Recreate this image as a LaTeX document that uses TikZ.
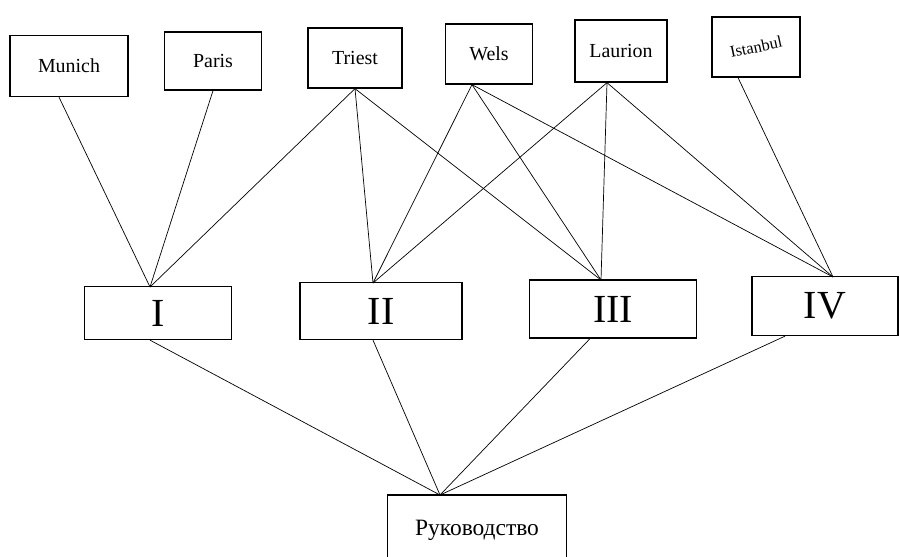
\documentclass[tikz,border=0pt]{standalone}
\usepackage{fontspec}
\setmainfont{Liberation Serif}
\begin{document}
\begin{tikzpicture}[x=0.03cm,y=-0.03cm,
  box/.style={draw,line width=1.1pt,rectangle,inner sep=0pt},
  city/.style={box,font=\fontsize{17}{17}\selectfont},
  grp/.style={box,font=\fontsize{34}{34}\selectfont},
  link/.style={line width=0.6pt}]
\useasboundingbox (0,0) rectangle (900,556);
% top boxes
\node[city,minimum width=118*0.03cm,minimum height=61*0.03cm] (mu) at (69,66) {Munich};
\node[city,minimum width=97*0.03cm,minimum height=58*0.03cm] (pa) at (213,61) {Paris};
\node[city,minimum width=94*0.03cm,minimum height=60*0.03cm] (tr) at (355,58) {Triest};
\node[city,minimum width=87*0.03cm,minimum height=60*0.03cm] (we) at (489,54) {Wels};
\node[city,minimum width=92*0.03cm,minimum height=62*0.03cm] (la) at (621,51) {Laurion};
\node[box,font=\fontsize{14}{14}\selectfont,minimum width=88*0.03cm,minimum height=60*0.03cm] (is) at (756,47) {\rotatebox{12}{Istanbul}};
% middle boxes
\node[grp,minimum width=147*0.03cm,minimum height=53*0.03cm] (g1) at (158,313) {I};
\node[grp,minimum width=162*0.03cm,minimum height=57*0.03cm] (g2) at (381,311) {II};
\node[grp,minimum width=167*0.03cm,minimum height=58*0.03cm] (g3) at (613,309) {III};
\node[grp,minimum width=146*0.03cm,minimum height=59*0.03cm] (g4) at (825,306) {IV};
% bottom box
\node[box,font=\fontsize{20}{20}\selectfont,minimum width=179*0.03cm,minimum height=70*0.03cm] (ru) at (477,530) {Руководство};
% convergence points
\coordinate (c1) at (150,287);
\coordinate (c2) at (373,283);
\coordinate (c3) at (601,280);
\coordinate (c4) at (833,277);
\coordinate (cr) at (440,495);
% top links
\draw[link] (mu.south) ++(-10,0) -- (c1);
\draw[link] (pa.south) -- (c1);
\draw[link] (tr.south) -- (c1);
\draw[link] (tr.south) -- (c2);
\draw[link] (tr.south) -- (c3);
\path (we.south) ++(-17,0) coordinate (w0);
\draw[link] (w0) -- (c2);
\draw[link] (w0) -- (c3);
\draw[link] (w0) -- (c4);
\path (la.south) ++(-14,0) coordinate (l0);
\draw[link] (l0) -- (c2);
\draw[link] (l0) -- (c3);
\draw[link] (l0) -- (c4);
\path (is.south) ++(-18,0) coordinate (i0);
\draw[link] (i0) -- (c4);
% bottom links
\path (g1.south) ++(-8,0) coordinate (b1);
\draw[link] (b1) -- (cr);
\path (g2.south) ++(-8,0) coordinate (b2);
\draw[link] (b2) -- (cr);
\path (g3.south) ++(-23,0) coordinate (b3);
\draw[link] (b3) -- (cr);
\path (g4.south) ++(-40,0) coordinate (b4);
\draw[link] (b4) -- (cr);
\end{tikzpicture}
\end{document}
